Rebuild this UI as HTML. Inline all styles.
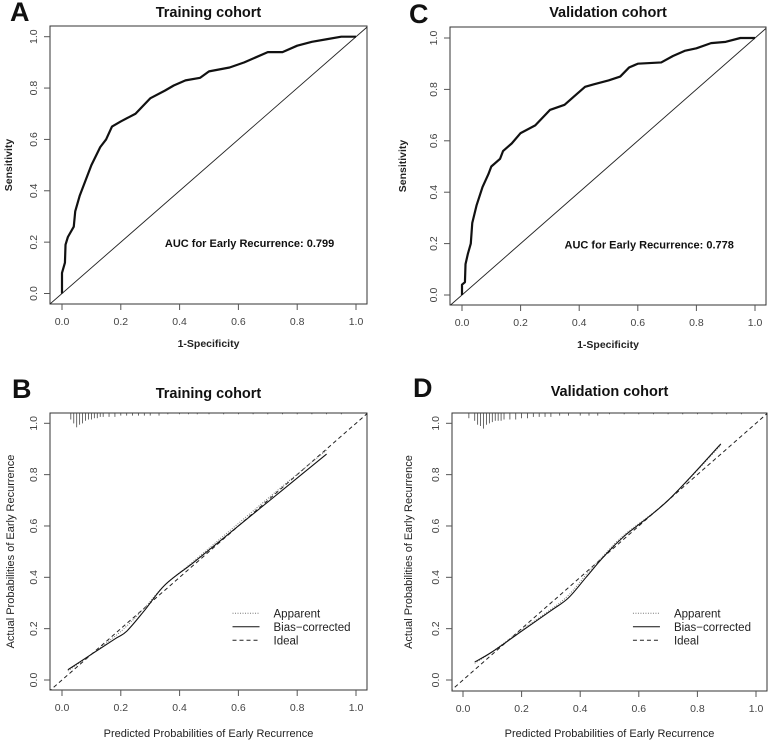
<!DOCTYPE html>
<html><head><meta charset="utf-8"><style>
body{margin:0;background:#fff;}
svg{display:block;font-family:"Liberation Sans",sans-serif;}
</style></head><body>
<svg id="fig" width="769" height="741" viewBox="0 0 769 741"></svg>
<script>
// ROC data
const rocA_fpr=[0,0,0.01,0.012,0.02,0.04,0.045,0.06,0.08,0.1,0.13,0.15,0.17,0.2,0.25,0.3,0.35,0.38,0.42,0.47,0.5,0.57,0.62,0.7,0.75,0.8,0.85,0.9,0.95,1];
const rocA_tpr=[0,0.08,0.12,0.19,0.22,0.26,0.32,0.38,0.44,0.5,0.57,0.6,0.65,0.67,0.7,0.76,0.79,0.81,0.83,0.84,0.865,0.88,0.9,0.94,0.94,0.965,0.98,0.99,1,1];
const rocC_fpr=[0,0,0.01,0.012,0.02,0.03,0.035,0.05,0.07,0.09,0.1,0.13,0.14,0.17,0.2,0.25,0.3,0.35,0.38,0.42,0.45,0.5,0.54,0.57,0.6,0.68,0.72,0.76,0.8,0.85,0.9,0.95,1];
const rocC_tpr=[0,0.04,0.05,0.12,0.16,0.2,0.28,0.35,0.42,0.47,0.5,0.53,0.56,0.59,0.63,0.66,0.72,0.74,0.77,0.81,0.82,0.835,0.85,0.885,0.9,0.905,0.93,0.95,0.96,0.98,0.985,1,1];
// Calibration data
const calB_pred=[0.02,0.1,0.18,0.22,0.28,0.35,0.45,0.6,0.75,0.9];
const calB_bias=[0.04,0.1,0.16,0.19,0.27,0.37,0.46,0.6,0.74,0.88];
const calB_app=[0.035,0.1,0.17,0.21,0.28,0.37,0.465,0.61,0.755,0.895];
const calD_pred=[0.04,0.1,0.2,0.3,0.36,0.42,0.48,0.55,0.7,0.88];
const calD_bias=[0.07,0.11,0.19,0.27,0.32,0.4,0.48,0.56,0.7,0.92];
const calD_app=[0.065,0.11,0.195,0.275,0.33,0.41,0.485,0.565,0.7,0.915];
// rug: predicted positions and counts
const rugB_pos=[0.03,0.04,0.05,0.06,0.07,0.08,0.09,0.1,0.11,0.12,0.13,0.14,0.16,0.18,0.2,0.22,0.24,0.26,0.28,0.3,0.33,0.36,0.4,0.43,0.46,0.5,0.55,0.6,0.65,0.7,0.75,0.8,0.85,0.9,0.95];
const rugB_cnt=[5,8,11,9,8,6,5,5,4,4,3,3,3,3,2,2,2,2,2,2,2,1,1,1,1,1,1,1,1,1,1,1,1,1,1];
const rugD_pos=[0.02,0.04,0.05,0.06,0.07,0.08,0.09,0.1,0.11,0.12,0.13,0.14,0.16,0.18,0.2,0.22,0.24,0.26,0.28,0.3,0.33,0.36,0.4,0.43,0.46,0.5,0.55,0.6,0.65,0.7,0.75,0.8,0.85,0.9,0.95];
const rugD_cnt=[4,6,9,10,12,9,8,7,6,6,6,5,5,5,4,4,3,3,3,3,2,2,2,2,2,1,1,1,1,1,1,1,1,1,1];
const ticks=[0,0.2,0.4,0.6,0.8,1];
const tickLabels=["0.0","0.2","0.4","0.6","0.8","1.0"];

const NS="http://www.w3.org/2000/svg";
const svg=document.getElementById('fig');
function mk(tag,attrs,parent){const e=document.createElementNS(NS,tag);for(const k in attrs)e.setAttribute(k,attrs[k]);(parent||svg).appendChild(e);return e;}
function txt(s,attrs,parent){const e=mk('text',attrs,parent);e.textContent=s;return e;}
function smooth(P){
  let d='M'+P[0][0]+','+P[0][1];
  for(let i=0;i<P.length-1;i++){
    const p0=P[i-1]||P[i],p1=P[i],p2=P[i+1],p3=P[i+2]||p2;
    const c1=[p1[0]+(p2[0]-p0[0])/6,p1[1]+(p2[1]-p0[1])/6];
    const c2=[p2[0]-(p3[0]-p1[0])/6,p2[1]-(p3[1]-p1[1])/6];
    d+=` C${c1[0]},${c1[1]} ${c2[0]},${c2[1]} ${p2[0]},${p2[1]}`;
  }
  return d;
}

function panel(p){
  const g=mk('g',{});
  
  
  const sx=v=>p.x0+(p.x1-p.x0)*v, sy=v=>p.y0+(p.y1-p.y0)*v;
  const lt=txt(p.letter,{x:p.lx,y:p.ly,'font-size':27,'font-weight':'bold',fill:'#111'},g);
  
  const tt=txt(p.title,{x:(p.bx0+p.bx1)/2,y:p.ty,'font-size':14.5,'font-weight':'bold','text-anchor':'middle',fill:'#111'},g);
  
  const box=mk('rect',{x:p.bx0,y:p.by0,width:p.bx1-p.bx0,height:p.by1-p.by0,fill:'none',stroke:'#333','stroke-width':1},g);
  
  ticks.forEach((t,i)=>{
    const X=sx(t);
    mk('line',{x1:X,y1:p.by1,x2:X,y2:p.by1+6,stroke:'#555'},g);
    const xl=txt(tickLabels[i],{x:X,y:p.by1+21,'font-size':10.5,'text-anchor':'middle',fill:'#444'},g);
    
    const Y=sy(t);
    mk('line',{x1:p.bx0,y1:Y,x2:p.bx0-6,y2:Y,stroke:'#555'},g);
    const yl=txt(tickLabels[i],{x:p.bx0-13,y:Y,'font-size':10.5,'text-anchor':'middle',fill:'#444',transform:`rotate(-90 ${p.bx0-13} ${Y})`},g);
    
  });
  const xt=txt(p.xlab,{x:(p.bx0+p.bx1)/2,y:p.xly,'font-size':p.labSize,'font-weight':p.labBold?'bold':'normal','text-anchor':'middle',fill:'#222'},g);
  
  const ym=(p.by0+p.by1)/2;
  const yt=txt(p.ylab,{x:p.ylx,y:ym,'font-size':p.labSize,'font-weight':p.labBold?'bold':'normal','text-anchor':'middle',fill:'#222',transform:`rotate(-90 ${p.ylx} ${ym})`},g);
  
  const cid='c'+p.letter;
  const cp=mk('clipPath',{id:cid},g);mk('rect',{x:p.bx0,y:p.by0,width:p.bx1-p.bx0,height:p.by1-p.by0},cp);
  const inner=mk('g',{'clip-path':`url(#${cid})`},g);
  const diag=(dash,w)=>mk('line',{x1:sx(-0.1),y1:sy(-0.1),x2:sx(1.1),y2:sy(1.1),stroke:'#222','stroke-width':w,'stroke-dasharray':dash||'none'},inner);
  if(p.type==='roc'){
    const d=diag(null,0.9);
    const pts=p.fx.map((v,i)=>sx(v)+','+sy(p.fy[i])).join(' ');
    const c=mk('polyline',{points:pts,fill:'none',stroke:'#111','stroke-width':2.2,'stroke-linejoin':'round'},inner);
    
    const a=txt(p.auc,{x:sx(0.35),y:sy(0.2)+5,'font-size':11,'font-weight':'bold',fill:'#111'},g);
    
  } else {
    const d=diag('4,3',1);
    const ap=mk('path',{d:smooth(p.px.map((v,i)=>[sx(v),sy(p.app[i])])),fill:'none',stroke:'#777','stroke-width':1,'stroke-dasharray':'1,1.5'},inner);
    
    const bc=mk('path',{d:smooth(p.px.map((v,i)=>[sx(v),sy(p.bias[i])])),fill:'none',stroke:'#111','stroke-width':1.1},inner);
    
    p.rp.forEach((v,i)=>{
      const r=mk('line',{x1:sx(v),y1:p.by0,x2:sx(v),y2:p.by0+p.rc[i]*1.3,stroke:'#444','stroke-width':0.8},inner);
      
    });
    const lg=mk('g',{},g);
    const lx=sx(0.58),ly=sy(0.26);
    const items=[['Apparent','1,1.5','#777'],['Bias\u2212corrected','none','#111'],['Ideal','4,3','#222']];
    items.forEach((it,i)=>{
      const y=ly+i*13.5;
      mk('line',{x1:lx,y1:y,x2:lx+27,y2:y,stroke:it[2],'stroke-dasharray':it[1]},lg);
      const e=txt(it[0],{x:lx+41,y:y+4,'font-size':11.5,fill:'#222'},lg);
      
    });
  }
}
panel({name:'panel-a-roc-training',type:'roc',letter:'A',lx:10,ly:21,title:'Training cohort',ty:17,
  bx0:50,bx1:367,by0:26,by1:304,x0:62,x1:356,y0:293.5,y1:36.7,xlab:'1-Specificity',xly:347,ylab:'Sensitivity',ylx:12,labSize:10.5,labBold:true,
  fx:rocA_fpr,fy:rocA_tpr,auc:'AUC for Early Recurrence: 0.799'});
panel({name:'panel-c-roc-validation',type:'roc',letter:'C',lx:409,ly:23,title:'Validation cohort',ty:17,
  bx0:450,bx1:766,by0:27,by1:305,x0:462,x1:755,y0:295,y1:38,xlab:'1-Specificity',xly:348,ylab:'Sensitivity',ylx:406,labSize:10.5,labBold:true,
  fx:rocC_fpr,fy:rocC_tpr,auc:'AUC for Early Recurrence: 0.778'});
panel({name:'panel-b-calibration-training',type:'cal',letter:'B',lx:12,ly:398,title:'Training cohort',ty:398,
  bx0:50,bx1:367,by0:413,by1:690,x0:62,x1:356,y0:680,y1:423.3,xlab:'Predicted Probabilities of Early Recurrence',xly:737,ylab:'Actual Probabilities of Early Recurrence',ylx:14,labSize:11,labBold:false,
  px:calB_pred,bias:calB_bias,app:calB_app,rp:rugB_pos,rc:rugB_cnt});
panel({name:'panel-d-calibration-validation',type:'cal',letter:'D',lx:413,ly:397,title:'Validation cohort',ty:396,
  bx0:452,bx1:767,by0:413,by1:691,x0:463,x1:756,y0:680,y1:423.3,xlab:'Predicted Probabilities of Early Recurrence',xly:737,ylab:'Actual Probabilities of Early Recurrence',ylx:412,labSize:11,labBold:false,
  px:calD_pred,bias:calD_bias,app:calD_app,rp:rugD_pos,rc:rugD_cnt});
</script>
</body></html>
